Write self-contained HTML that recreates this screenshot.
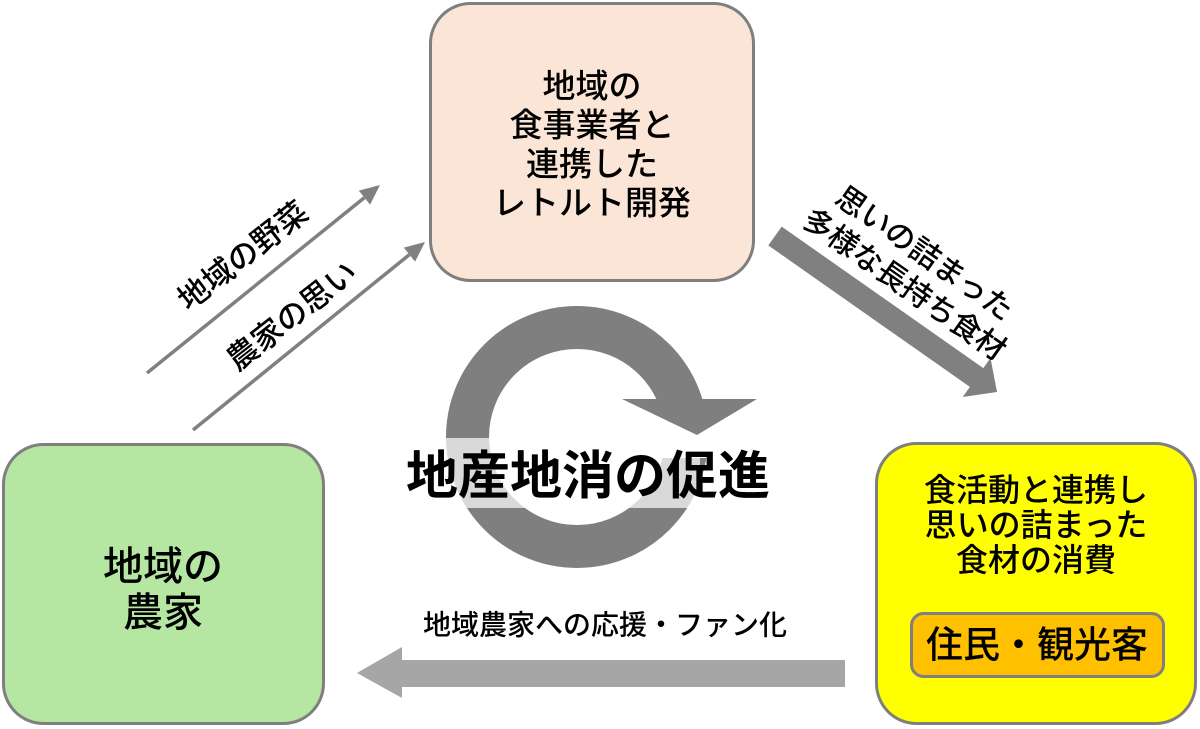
<!DOCTYPE html>
<html>
<head>
<meta charset="utf-8">
<style>
  html,body{margin:0;padding:0;background:#fff;}
  body{width:1200px;height:729px;overflow:hidden;}
  svg{display:block;}
  text{font-family:"Liberation Sans","Noto Sans CJK JP",sans-serif;fill:#000;}
</style>
</head>
<body>
<svg width="1200" height="729" viewBox="0 0 1200 729" xmlns="http://www.w3.org/2000/svg">
  <defs>
    <clipPath id="gap">
      <path clip-rule="evenodd" d="M0 0 H1200 V729 H0 Z M600 399 H800 V458 H600 Z"/>
    </clipPath>
  </defs>

  <!-- Top box -->
  <rect x="430.5" y="3.5" width="323" height="277" rx="40" ry="40" fill="#fbe5d6" stroke="#7f7f7f" stroke-width="3"/>
  <g font-size="33" font-weight="500" text-anchor="middle">
    <text x="592" y="86" dominant-baseline="central">地域の</text>
    <text x="592" y="125" dominant-baseline="central">食事業者と</text>
    <text x="592" y="164" dominant-baseline="central">連携した</text>
    <text x="592" y="203" dominant-baseline="central">レトルト開発</text>
  </g>

  <!-- Left box -->
  <rect x="3.5" y="444.5" width="320" height="279" rx="40" ry="40" fill="#b5e6a2" stroke="#7f7f7f" stroke-width="3"/>
  <g font-size="40" font-weight="500" text-anchor="middle">
    <text x="163" y="567" dominant-baseline="central">地域の</text>
    <text x="163" y="613" dominant-baseline="central">農家</text>
  </g>

  <!-- Right box -->
  <rect x="876.5" y="443.5" width="319" height="280" rx="40" ry="40" fill="#ffff00" stroke="#7f7f7f" stroke-width="3"/>
  <g font-size="32" font-weight="500" text-anchor="middle">
    <text x="1036" y="490" dominant-baseline="central">食活動と連携し</text>
    <text x="1036" y="525" dominant-baseline="central">思いの詰まった</text>
    <text x="1036" y="560" dominant-baseline="central">食材の消費</text>
  </g>
  <rect x="911.5" y="613.5" width="252" height="63" rx="12" ry="12" fill="#ffc000" stroke="#7f7f7f" stroke-width="3"/>
  <text x="1037" y="645" font-size="37" font-weight="500" text-anchor="middle" dominant-baseline="central">住民・観光客</text>

  <!-- Left diagonal arrows -->
  <line x1="147" y1="373" x2="364.4" y2="197.6" stroke="#808080" stroke-width="3.5"/>
  <polygon points="380,185 370.1,204.6 358.8,190.6" fill="#808080"/>
  <line x1="193" y1="430" x2="409.4" y2="254.6" stroke="#808080" stroke-width="3.5"/>
  <polygon points="425,242 415.1,261.6 403.8,247.6" fill="#808080"/>
  <text x="243" y="256" font-size="31" font-weight="500" text-anchor="middle" dominant-baseline="central" transform="rotate(-38 243 256)">地域の野菜</text>
  <text x="292" y="316" font-size="31" font-weight="500" text-anchor="middle" dominant-baseline="central" transform="rotate(-38 292 316)">農家の思い</text>

  <!-- Right diagonal block arrow -->
  <polygon points="781.7,226.6 983.3,368.1 990.5,358.0 997,392 962.7,397.0 969.9,386.9 768.3,245.4" fill="#808080"/>
  <text x="924" y="254" font-size="30" font-weight="500" text-anchor="middle" dominant-baseline="central" transform="rotate(35 924 254)">思いの詰まった</text>
  <text x="904" y="285" font-size="30" font-weight="500" text-anchor="middle" dominant-baseline="central" transform="rotate(35 904 285)">多様な長持ち食材</text>

  <!-- Bottom arrow -->
  <polygon points="845,660 402,660 402,647 357,673 402,698 402,687 845,687" fill="#a6a6a6"/>
  <text x="605" y="625" font-size="28" font-weight="500" text-anchor="middle" dominant-baseline="central">地域農家への応援・ファン化</text>

  <!-- Circular arrow -->
  <circle cx="577" cy="437" r="109.5" fill="none" stroke="#7f7f7f" stroke-width="43" clip-path="url(#gap)"/>
  <polygon points="622,399 757,399 697,435" fill="#7f7f7f"/>
  <rect x="400" y="438" width="300" height="70" fill="#ffffff" fill-opacity="0.7"/>
  <text x="588" y="477" font-size="52" font-weight="700" text-anchor="middle" dominant-baseline="central">地産地消の促進</text>
</svg>
</body>
</html>
